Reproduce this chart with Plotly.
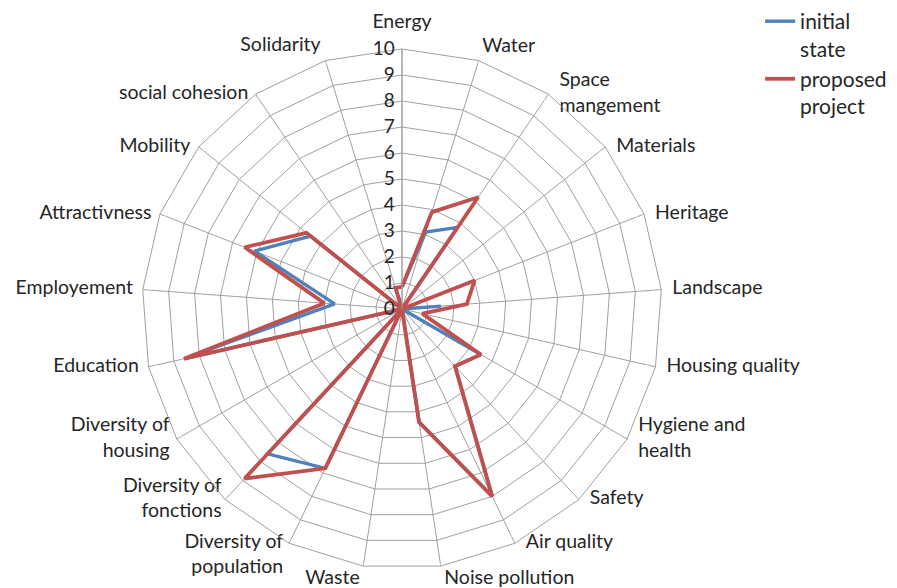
import plotly.graph_objects as go

categories = ["Energy", "Water", "Space<br>mangement", "Materials", "Heritage", "Landscape",
              "Housing quality", "Hygiene and<br>health", "Safety", "Air quality",
              "Noise pollution", "Waste", "Diversity of<br>population", "Diversity of<br>fonctions",
              "Diversity of<br>housing", "Education", "Employement", "Attractivness",
              "Mobility", "social cohesion", "Solidarity"]

initial_state = [0.85, 3.1, 3.8, 0, 0, 1.5, 0, 3.5, 3.0, 8.0, 4.4, 0, 6.8, 7.6, 0, 8.6, 2.6, 6.1, 4.5, 0, 0.85]
proposed_project = [0.85, 3.9, 5.2, 0, 3.0, 2.5, 0.8, 3.5, 3.0, 8.0, 4.4, 0, 6.8, 8.9, 0, 8.6, 3.0, 6.5, 4.7, 0, 0.85]

radial_ticks = list(range(0, 11))

# ---- layout / style settings ----
W, H = 889, 580            # page body has an 8px margin inside the 897x588 window
cx, cy, R = 394, 301, 260  # polar centre (figure px from top-left) and radius
label_positions = (["top center", "top right"] + ["middle right"] * 8 +
                   ["bottom right", "bottom left"] + ["middle left"] * 8 + ["top left"])
# invisible markers under the labels set the gap between ring and text
label_gaps = [24, 4] + [16] * 8 + [4, 4] + [8, 4, 10, 14, 14, 12, 12, 10] + [6]
label_text = list(categories)
label_text[12] = "\u00a0<br>" + label_text[12]   # drop "Diversity of population" by half a line

theta_closed = categories + [categories[0]]

fig = go.Figure()
fig.add_trace(go.Scatterpolar(r=initial_state + [initial_state[0]], theta=theta_closed,
                              mode="lines", name="initial<br>state",
                              line=dict(color="#4F81BD", width=3.4)))
fig.add_trace(go.Scatterpolar(r=proposed_project + [proposed_project[0]], theta=theta_closed,
                              mode="lines", name="proposed<br>project",
                              line=dict(color="#C0504D", width=3.8)))
# category labels, placed through the polar axes at the outer ring
fig.add_trace(go.Scatterpolar(r=[radial_ticks[-1]] * len(categories), theta=categories,
                              mode="markers+text", text=label_text, textposition=label_positions,
                              marker=dict(size=label_gaps, color="rgba(0,0,0,0)"),
                              textfont=dict(family="Lato", size=19.5, color="#262626"),
                              cliponaxis=False, showlegend=False, hoverinfo="skip"))

fig.update_layout(
    width=W, height=H,
    margin=dict(l=0, r=0, t=0, b=0, autoexpand=False),
    paper_bgcolor="white", plot_bgcolor="white",
    font=dict(family="Lato", size=19, color="#262626"),
    polar=dict(
        domain=dict(x=[(cx - R) / W, (cx + R) / W],
                    y=[(H - cy - R) / H, (H - cy + R) / H]),
        bgcolor="white",
        gridshape="linear",
        angularaxis=dict(rotation=90, direction="clockwise", type="category",
                         categoryorder="array", categoryarray=categories,
                         gridcolor="#A0A0A0", gridwidth=1, linecolor="#A0A0A0", linewidth=1,
                         showline=True, ticks="", showticklabels=False),
        radialaxis=dict(range=[0, 10], tickvals=radial_ticks, ticktext=[str(t) for t in radial_ticks],
                        angle=90, tickangle=90, side="counterclockwise",
                        gridcolor="#A0A0A0", gridwidth=1, showline=True, linecolor="#A0A0A0",
                        ticks="", tickfont=dict(size=19, color="#262626")),
    ),
    legend=dict(x=0.846, y=1.012, xanchor="left", yanchor="top", valign="top",
                font=dict(size=21, color="#262626"),
                bgcolor="rgba(0,0,0,0)", tracegroupgap=0),
)

fig.write_html("out.html")
